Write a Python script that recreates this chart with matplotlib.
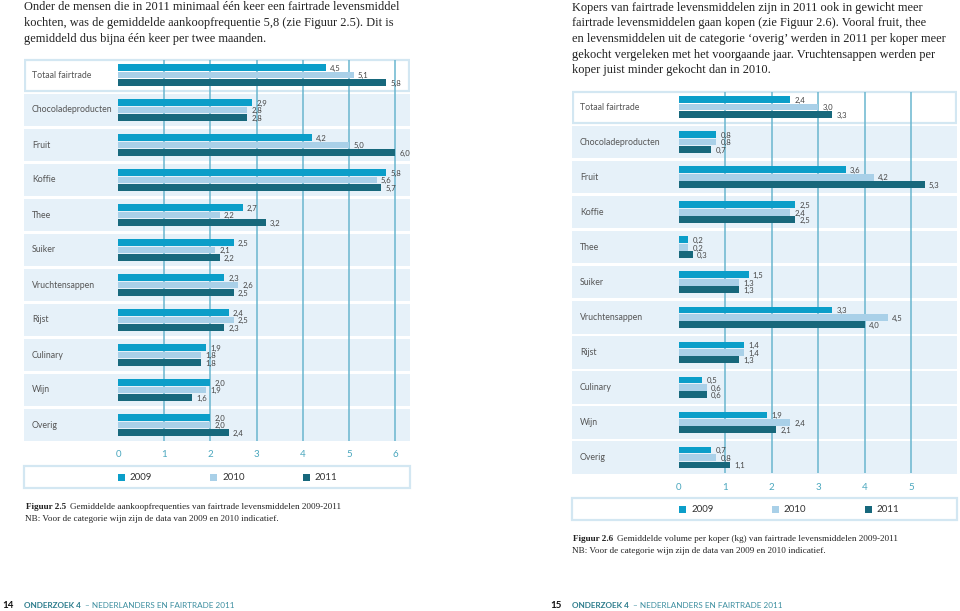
import matplotlib
matplotlib.use("Agg")
import matplotlib.pyplot as plt
from matplotlib.patches import Rectangle
import numpy as np

W, H = 960, 611

# ---------------- data ----------------
categories = ["Totaal fairtrade", "Chocoladeproducten", "Fruit", "Koffie", "Thee",
              "Suiker", "Vruchtensappen", "Rijst", "Culinary", "Wijn", "Overig"]
years = ["2009", "2010", "2011"]

freq_2009 = [4.5, 2.9, 4.2, 5.8, 2.7, 2.5, 2.3, 2.4, 1.9, 2.0, 2.0]
freq_2010 = [5.1, 2.8, 5.0, 5.6, 2.2, 2.1, 2.6, 2.5, 1.8, 1.9, 2.0]
freq_2011 = [5.8, 2.8, 6.0, 5.7, 3.2, 2.2, 2.5, 2.3, 1.8, 1.6, 2.4]

vol_2009 = [2.4, 0.8, 3.6, 2.5, 0.2, 1.5, 3.3, 1.4, 0.5, 1.9, 0.7]
vol_2010 = [3.0, 0.8, 4.2, 2.4, 0.2, 1.3, 4.5, 1.4, 0.6, 2.4, 0.8]
vol_2011 = [3.3, 0.7, 5.3, 2.5, 0.3, 1.3, 4.0, 1.3, 0.6, 2.1, 1.1]

freq_ticks = [0, 1, 2, 3, 4, 5, 6]
vol_ticks = [0, 1, 2, 3, 4, 5]

text_left = ["Onder de mensen die in 2011 minimaal één keer een fairtrade levensmiddel",
             "kochten, was de gemiddelde aankoopfrequentie 5,8 (zie Figuur 2.5). Dit is",
             "gemiddeld dus bijna één keer per twee maanden."]
text_right = ["Kopers van fairtrade levensmiddelen zijn in 2011 ook in gewicht meer",
              "fairtrade levensmiddelen gaan kopen (zie Figuur 2.6). Vooral fruit, thee",
              "en levensmiddelen uit de categorie \u2018overig\u2019 werden in 2011 per koper meer",
              "gekocht vergeleken met het voorgaande jaar. Vruchtensappen werden per",
              "koper juist minder gekocht dan in 2010."]

# ---------------- style ----------------
C09, C10, C11 = "#0b9ec9", "#a9d0e8", "#17687c"
colors = [C09, C10, C11]
ROWBG = "#e6f1f9"
BORDER = "#d3e7f2"
GRID = "#6ab6cf"
TEAL = "#2c7c8c"
SANS = ["Lato", "DejaVu Sans"]
SERIF = ["Liberation Serif", "DejaVu Serif"]

fig = plt.figure(figsize=(W / 100, H / 100), dpi=100)
fig.patch.set_facecolor("white")
renderer = fig.canvas.get_renderer()


def fx(x):
    return x / W


def fy(y):
    return 1 - y / H


def right_px(t):
    bb = t.get_window_extent(renderer=renderer)
    return bb.x1


def make_chart(x0, x1, zero_px, unit_px, row0_c, pitch, data, ticks, label_x):
    n = len(categories)
    top = row0_c - pitch / 2
    bot = row0_c + pitch * (n - 0.5)
    ax = fig.add_axes([fx(x0), fy(bot), (x1 - x0) / W, (bot - top) / H])
    ax.set_xlim((x0 - zero_px) / unit_px, (x1 - zero_px) / unit_px)
    ax.set_ylim(n - 0.5, -0.5)
    for s in ax.spines.values():
        s.set_visible(False)
    ax.set_yticks([])
    ax.set_xticks(ticks)
    ax.set_xticklabels([str(t) for t in ticks])
    ax.tick_params(axis="x", length=0, pad=5.5, labelsize=7, labelcolor="#4aa7be")
    for lab in ax.get_xticklabels():
        lab.set_family(SANS)
    ax.set_facecolor("none")
    xl = ax.get_xlim()
    rh = 31 / pitch
    for i in range(n):
        if i == 0:
            r = Rectangle((xl[0] + 0.02, i - rh / 2), xl[1] - xl[0] - 0.04, rh,
                          facecolor="white", edgecolor=BORDER, lw=1.6, zorder=0)
        else:
            r = Rectangle((xl[0], i - rh / 2 - 0.02), xl[1] - xl[0], rh + 0.04,
                          facecolor=ROWBG, edgecolor="none", zorder=0)
        ax.add_patch(r)
        ax.text(label_x, i, categories[i], ha="left", va="center",
                fontsize=6.3, color="#555555", family=SANS, transform=ax.transData)
    ax.vlines([t for t in ticks if t > 0], -rh / 2, n - 1 + rh / 2,
              colors=GRID, lw=1.1, zorder=1)
    y = np.arange(n)
    bh = 6.8 / pitch
    off = 7.4 / pitch
    for k, (vals, c) in enumerate(zip(data, colors)):
        yy = y + (k - 1) * off
        ax.barh(yy, vals, height=bh, color=c, zorder=2)
        for yi, v in zip(yy, vals):
            ax.annotate(f"{v:.1f}".replace(".", ","), (v, yi), xytext=(3, -0.6),
                        textcoords="offset points", ha="left", va="center",
                        fontsize=5.6, color="#444444", family=SANS, zorder=3)
    return ax


# left chart
axL = make_chart(24, 410, 118, 46.2, 75, 35, [freq_2009, freq_2010, freq_2011],
                 freq_ticks, (32 - 118) / 46.2)
# right chart
axR = make_chart(572, 957, 679, 46.4, 107, 35.05, [vol_2009, vol_2010, vol_2011],
                 vol_ticks, (580 - 679) / 46.4)


def legend_box(x0, x1, y0, y1, zero_px, unit_px):
    r = Rectangle((fx(x0), fy(y1)), (x1 - x0) / W, (y1 - y0) / H, transform=fig.transFigure,
                  facecolor="white", edgecolor=BORDER, lw=1.6)
    fig.patches.append(r)
    yc = (y0 + y1) / 2
    for k, (yr, c) in enumerate(zip(years, colors)):
        sx = zero_px + 2 * k * unit_px
        sq = Rectangle((fx(sx), fy(yc + 3.5)), 7 / W, 7 / H, transform=fig.transFigure,
                       facecolor=c, edgecolor="none")
        fig.patches.append(sq)
        fig.text(fx(sx + 12), fy(yc), yr, ha="left", va="center", fontsize=7,
                 color="#333333", family=SANS)


legend_box(24, 410, 466, 488, 118, 46.2)
legend_box(572, 957, 498, 520, 679, 46.4)

# body text
for i, line in enumerate(text_left):
    fig.text(fx(24), fy(7.5 + 15.7 * i), line, ha="left", va="center", fontsize=8.9,
             color="#222222", family=SERIF)
for i, line in enumerate(text_right):
    fig.text(fx(572), fy(7.5 + 15.7 * i), line, ha="left", va="center", fontsize=8.9,
             color="#222222", family=SERIF)


def caption(x, y, fig_label, title, note):
    t = fig.text(fx(x), fy(y), fig_label, ha="left", va="center", fontsize=6.6,
                 weight="bold", color="#222222", family=SERIF)
    xr = right_px(t)
    fig.text((xr + 4) / W, fy(y), title, ha="left", va="center", fontsize=6.6,
             color="#222222", family=SERIF)
    fig.text(fx(x - 1), fy(y + 12), note, ha="left", va="center", fontsize=6.6,
             color="#222222", family=SERIF)


caption(26, 507, "Figuur 2.5",
        "Gemiddelde aankoopfrequenties van fairtrade levensmiddelen 2009-2011",
        "NB: Voor de categorie wijn zijn de data van 2009 en 2010 indicatief.")
caption(573, 539, "Figuur 2.6",
        "Gemiddelde volume per koper (kg) van fairtrade levensmiddelen 2009-2011",
        "NB: Voor de categorie wijn zijn de data van 2009 en 2010 indicatief.")

# footers
for num, nx, x0 in [("14", 2, 24), ("15", 550, 572)]:
    fig.text(fx(nx), fy(606), num, ha="left", va="center", fontsize=7.0, weight="bold",
             color="#111111", family=SANS)
    t = fig.text(fx(x0), fy(606), "ONDERZOEK 4", ha="left", va="center", fontsize=5.9,
                 weight="bold", color=TEAL, family=SANS)
    xr = right_px(t)
    fig.text((xr + 4) / W, fy(606), "\u2013 NEDERLANDERS EN FAIRTRADE 2011", ha="left",
             va="center", fontsize=5.9, color="#3d8fa0", family=SANS)

fig.savefig("out.png", dpi=100, facecolor="white")
